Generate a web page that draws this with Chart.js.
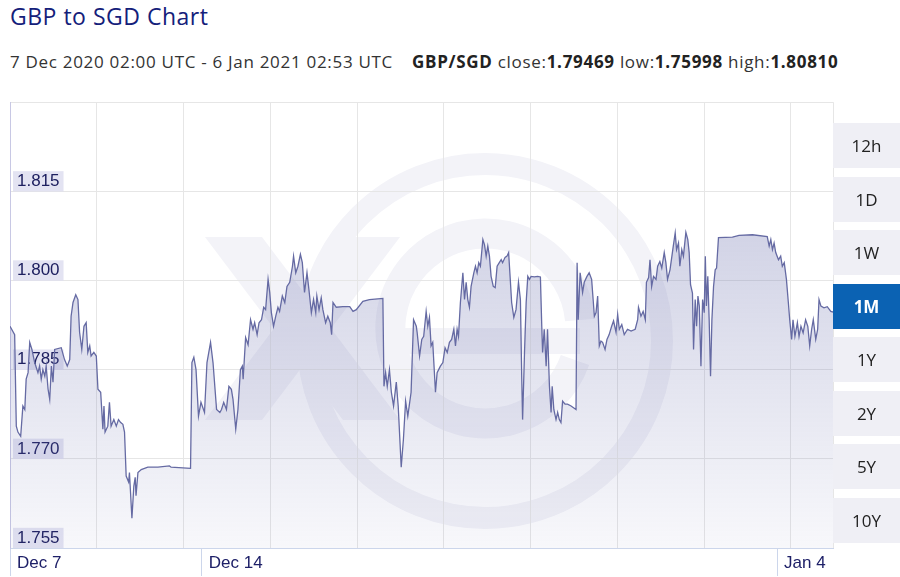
<!DOCTYPE html>
<html>
<head>
<meta charset="utf-8">
<script src="https://cdn.jsdelivr.net/npm/chart.js@4.4.0/dist/chart.umd.min.js"></script>
<style>
  body { margin: 0; width: 900px; height: 577px; overflow: hidden; background: #fff; position: relative; font-family: "Open Sans", sans-serif; }
  .title { position: absolute; left: 10px; top: 1px; font-size: 23px; letter-spacing: 0.5px; color: #14207a; line-height: 30px; white-space: nowrap; }
  .sub { position: absolute; top: 51px; font-size: 17px; letter-spacing: 0.7px; color: #333; line-height: 22px; white-space: nowrap; }
  .sub b { color: #222; }
  .wm { position: absolute; left: 0; top: 0; }
  .wrap { position: absolute; left: -7px; top: 85px; width: 841px; height: 492px; }
  .btns { position: absolute; left: 833px; top: 123px; width: 67px; }
  .btns div { height: 45px; margin-bottom: 8.5px; background: #efeff5; font-size: 17px; line-height: 45px; text-align: center; color: #222; }
  .btns div.on { background: #0b62b3; color: #fff; font-weight: 700; }
</style>
</head>
<body>
<div class="title">GBP to SGD Chart</div>
<div class="sub" style="left:10px">7 Dec 2020 02:00 UTC - 6 Jan 2021 02:53 UTC</div>
<div class="sub" style="left:412px"><b>GBP/SGD</b> close:<b>1.79469</b> low:<b>1.75998</b> high:<b>1.80810</b></div>

<!-- faint logo watermark behind the plot -->
<svg class="wm" width="900" height="577">
  <g fill="#f3f3f8">
    <polygon points="205,237 262,237 400,420 343,420" />
    <polygon points="343,237 400,237 262,420 205,420" />
  </g>
  <circle cx="485" cy="341" r="177" fill="none" stroke="#f3f3f8" stroke-width="22" />
  <path d="M 575 360 A 95 95 0 1 1 580 320" fill="none" stroke="#f3f3f8" stroke-width="30" />
  <rect x="400" y="328" width="180" height="26" fill="#f3f3f8" />
</svg>

<div class="wrap"><canvas id="fxChart"></canvas></div>

<div class="btns">
  <div>12h</div><div>1D</div><div>1W</div><div class="on">1M</div>
  <div>1Y</div><div>2Y</div><div>5Y</div><div>10Y</div>
</div>

<script>
// days since 7 Dec 2020 02:00 UTC
const days = [
  0,0.17,0.23,0.29,0.39,0.47,0.54,0.59,0.66,0.72,
  0.80,0.90,1.02,1.08,1.14,1.20,1.27,1.32,1.39,1.45,
  1.51,1.57,1.63,1.87,1.99,2.09,2.18,2.23,2.30,2.40,
  2.48,2.54,2.62,2.70,2.78,2.84,2.91,2.96,3.06,3.15,
  3.21,3.31,3.39,3.43,3.47,3.57,3.63,3.69,3.79,3.88,
  3.96,4.04,4.12,4.18,4.24,4.33,4.36,4.45,4.52,4.57,
  4.60,4.67,4.79,5.03,5.40,5.82,5.88,6.59,6.64,6.71,
  6.79,6.88,6.97,7.10,7.19,7.32,7.41,7.54,7.66,7.72,
  7.80,7.90,7.99,8.08,8.14,8.24,8.32,8.41,8.48,8.51,
  8.60,8.69,8.78,8.87,8.93,9.02,9.09,9.18,9.26,9.33,
  9.42,9.48,9.54,9.62,9.70,9.78,9.84,9.94,10.03,10.11,
  10.21,10.31,10.35,10.43,10.51,10.60,10.67,10.75,10.84,10.91,
  11.00,11.08,11.16,11.20,11.28,11.36,11.42,11.52,11.60,11.69,
  11.74,11.79,11.91,12.15,12.40,12.52,12.64,12.88,13.12,13.61,
  13.65,13.71,13.77,13.85,13.92,14.00,14.10,14.17,14.28,14.36,
  14.44,14.52,14.64,14.73,14.83,14.86,14.95,15.03,15.10,15.19,
  15.25,15.31,15.37,15.43,15.53,15.59,15.71,15.80,15.88,15.96,
  16.04,16.12,16.20,16.26,16.32,16.37,16.44,16.53,16.59,16.65,
  16.71,16.77,16.83,16.93,16.99,17.05,17.11,17.17,17.26,17.32,
  17.38,17.44,17.50,17.56,17.64,17.71,17.78,17.86,17.93,17.98,
  18.07,18.14,18.20,18.26,18.31,18.39,18.47,18.56,18.63,18.68,
  18.71,18.78,18.84,18.90,18.96,19.02,19.14,19.26,19.36,19.41,
  19.44,19.50,19.57,19.62,19.69,19.75,19.79,19.85,19.93,19.99,
  20.05,20.11,20.17,20.26,20.35,20.48,20.66,20.70,20.74,20.81,
  20.90,20.96,21.06,21.14,21.23,21.33,21.39,21.45,21.51,21.57,
  21.63,21.72,21.79,21.87,21.96,22.03,22.12,22.18,22.24,22.33,
  22.42,22.54,22.67,22.82,22.91,22.94,23.03,23.11,23.19,23.23,
  23.31,23.36,23.42,23.49,23.58,23.64,23.72,23.79,23.88,23.94,
  24.00,24.09,24.16,24.21,24.28,24.33,24.40,24.45,24.52,24.58,
  24.67,24.74,24.79,24.84,24.91,24.95,25.01,25.06,25.11,25.16,
  25.22,25.28,25.34,25.38,25.42,25.47,25.52,25.57,25.62,25.68,
  25.74,25.79,25.86,26.37,26.61,27.10,27.64,27.71,27.77,27.83,
  27.89,27.95,28.05,28.13,28.19,28.26,28.34,28.41,28.46,28.53,
  28.58,28.65,28.74,28.80,28.87,28.95,29.04,29.12,29.19,29.26,
  29.32,29.41,29.48,29.53,29.60,29.71,29.83,29.96,30.04
];

// GBP/SGD rate
const rates = [
  1.7923,1.7909,1.7755,1.7745,1.7738,1.7789,1.7783,1.7834,1.7845,1.7896,
  1.7884,1.7862,1.7845,1.7856,1.7834,1.7850,1.7839,1.7856,1.7817,1.7800,
  1.7856,1.7829,1.7884,1.7887,1.7867,1.7856,1.7867,1.7940,1.7963,1.7976,
  1.7968,1.7913,1.7884,1.7923,1.7929,1.7879,1.7890,1.7873,1.7879,1.7873,
  1.7817,1.7812,1.7750,1.7789,1.7745,1.7755,1.7795,1.7755,1.7766,1.7755,
  1.7766,1.7761,1.7758,1.7745,1.7671,1.7661,1.7677,1.7600,1.7654,1.7669,
  1.7638,1.7677,1.7682,1.7686,1.7686,1.7688,1.7686,1.7684,1.7862,1.7871,
  1.7850,1.7772,1.7795,1.7778,1.7862,1.7896,1.7862,1.7783,1.7778,1.7783,
  1.7795,1.7783,1.7822,1.7817,1.7800,1.7750,1.7783,1.7850,1.7856,1.7834,
  1.7904,1.7892,1.7934,1.7918,1.7929,1.7909,1.7929,1.7934,1.7955,1.7951,
  1.8002,1.7980,1.7946,1.7923,1.7940,1.7955,1.7948,1.7974,1.7963,1.7990,
  1.7997,1.8024,1.8041,1.8013,1.8024,1.8044,1.8030,1.7980,1.8013,1.7985,
  1.7946,1.7968,1.7946,1.7974,1.7951,1.7971,1.7951,1.7929,1.7940,1.7929,
  1.7909,1.7963,1.7955,1.7956,1.7956,1.7948,1.7951,1.7965,1.7968,1.7970,
  1.7822,1.7845,1.7822,1.7850,1.7812,1.7789,1.7829,1.7789,1.7686,1.7733,
  1.7797,1.7772,1.7812,1.7934,1.7923,1.7913,1.7873,1.7901,1.7906,1.7948,
  1.7923,1.7938,1.7890,1.7896,1.7812,1.7845,1.7856,1.7862,1.7887,1.7879,
  1.7896,1.7901,1.7918,1.7890,1.7918,1.7906,1.7963,1.8013,1.7968,1.7997,
  1.7968,1.7955,1.7990,1.8013,1.8024,1.8013,1.8030,1.8024,1.8069,1.8060,
  1.8041,1.8058,1.8041,1.8007,1.7990,1.7988,1.8024,1.8030,1.8035,1.8030,
  1.8039,1.8041,1.8047,1.8002,1.7963,1.7938,1.7951,1.7997,1.7968,1.7834,
  1.7766,1.7879,1.7963,1.8007,1.8002,1.8007,1.8006,1.8007,1.8006,1.7923,
  1.7879,1.7918,1.7856,1.7918,1.7822,1.7778,1.7822,1.7783,1.7766,1.7778,
  1.7766,1.7761,1.7797,1.7792,1.7792,1.7789,1.7783,1.8030,1.7934,1.8013,
  1.7980,1.7997,1.8007,1.8013,1.8002,1.7940,1.7946,1.7974,1.7890,1.7898,
  1.7896,1.7884,1.7901,1.7909,1.7923,1.7932,1.7913,1.7943,1.7918,1.7926,
  1.7909,1.7918,1.7915,1.7918,1.7934,1.7955,1.7940,1.7948,1.7934,1.7997,
  1.8005,1.8035,1.7990,1.8007,1.8002,1.8024,1.8032,1.8021,1.8047,1.8030,
  1.8002,1.8018,1.8041,1.8058,1.8080,1.8052,1.8063,1.8024,1.8052,1.8041,
  1.8081,1.8069,1.8047,1.7993,1.7979,1.7884,1.7968,1.7923,1.7974,1.7957,
  1.7856,1.7968,1.7946,1.8041,1.7957,1.8007,1.7934,1.7839,1.7934,1.7990,
  1.8018,1.8021,1.8072,1.8073,1.8076,1.8077,1.8074,1.8058,1.8069,1.8052,
  1.8063,1.8047,1.8035,1.8041,1.8024,1.8030,1.8002,1.7963,1.7934,1.7901,
  1.7934,1.7906,1.7929,1.7906,1.7923,1.7912,1.7934,1.7923,1.7890,1.7918,
  1.7934,1.7901,1.7918,1.7968,1.7957,1.7954,1.7956,1.7948,1.7947
];

const yTicks = [1.755, 1.770, 1.785, 1.800, 1.815, 1.830];
const xTickDays = [0, 7, 28];
const xTickLabels = ['Dec 7', 'Dec 14', 'Jan 4'];
const rangeEnd = 30.04;
const gridStep = 3.167; // vertical grid spacing, in days

const points = days.map((d, i) => ({ x: d, y: rates[i] }));

function areaFill(ctx) {
  const area = ctx.chart.chartArea;
  if (!area) return 'rgba(0,0,0,0)';
  const g = ctx.chart.ctx.createLinearGradient(0, area.top, 0, area.bottom);
  g.addColorStop(0, 'rgba(110,115,175,0.42)');
  g.addColorStop(1, 'rgba(110,115,175,0.05)');
  return g;
}

new Chart(document.getElementById('fxChart'), {
  type: 'line',
  data: {
    datasets: [{
      data: points,
      borderColor: '#656aa3',
      borderWidth: 1.3,
      pointRadius: 0,
      tension: 0,
      fill: 'start',
      backgroundColor: areaFill
    }]
  },
  options: {
    responsive: true,
    maintainAspectRatio: false,
    animation: false,
    layout: { padding: { left: 3, top: 0, right: 1, bottom: 0 } },
    plugins: { legend: { display: false }, tooltip: { enabled: false } },
    scales: {
      x: {
        type: 'linear',
        min: 0,
        max: rangeEnd,
        afterBuildTicks: s => { s.ticks = xTickDays.map(v => ({ value: v })); },
        // long tick marks run through the label row, so the box height is set by hand
        afterFit: s => { s.height = 29; },
        ticks: {
          autoSkip: false,
          maxRotation: 0,
          align: 'start',
          labelOffset: 7,
          padding: -23,
          color: '#1e2068',
          font: { family: 'Liberation Sans', size: 17 },
          callback: (v, i) => xTickLabels[i]
        },
        grid: { drawOnChartArea: false, drawTicks: true, tickLength: 28, color: '#ccd6eb' },
        border: { color: '#ccd6eb' }
      },
      xGrid: {
        type: 'linear',
        position: 'bottom',
        min: 0,
        max: rangeEnd,
        z: 1,
        afterBuildTicks: s => {
          const t = [];
          for (let v = 0; v < rangeEnd; v += gridStep) t.push({ value: v });
          t.push({ value: rangeEnd });
          s.ticks = t;
        },
        ticks: { display: false },
        grid: { color: '#e6e6e6', drawTicks: false },
        border: { display: false }
      },
      y: {
        min: 1.755,
        max: 1.830,
        z: 1,
        afterBuildTicks: s => { s.ticks = yTicks.map(v => ({ value: v })); },
        ticks: {
          mirror: true,
          padding: 7,
          labelOffset: -10,
          color: '#1e2060',
          font: { family: 'Liberation Sans', size: 17 },
          showLabelBackdrop: true,
          backdropColor: c => (c.tick && c.tick.value > 1.82) ? 'rgba(0,0,0,0)' : 'rgba(222,222,240,0.85)',
          backdropPadding: { x: 4, y: 0 },
          callback: v => v > 1.82 ? '' : v.toFixed(3)
        },
        grid: { color: '#e6e6e6', drawTicks: false },
        border: { color: '#c8c8e4' }
      }
    }
  }
});
</script>
</body>
</html>
